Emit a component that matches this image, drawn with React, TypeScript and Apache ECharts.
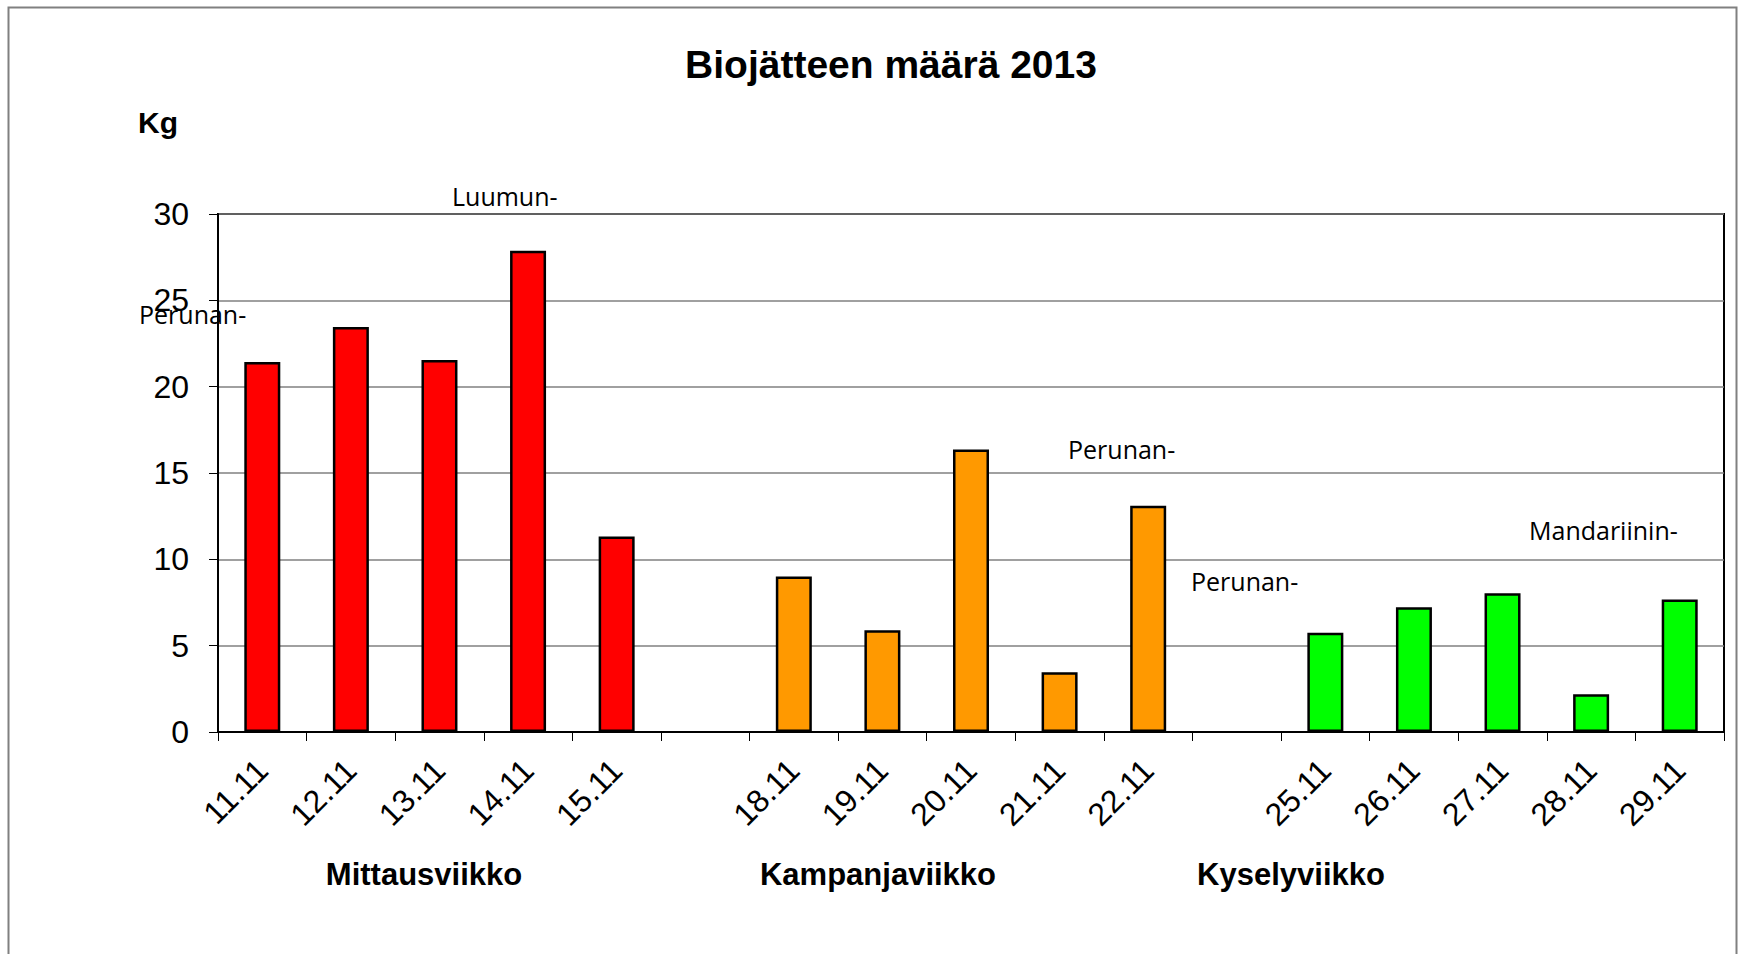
import React, { useEffect, useRef } from "react";
import * as echarts from "echarts";

const categories = [
  "11.11", "12.11", "13.11", "14.11", "15.11", "",
  "18.11", "19.11", "20.11", "21.11", "22.11", "",
  "25.11", "26.11", "27.11", "28.11", "29.11",
];
const values: (number | null)[] = [
  21.43, 23.45, 21.55, 27.87, 11.32, null,
  9.0, 5.9, 16.36, 3.46, 13.1, null,
  5.75, 7.22, 8.03, 2.18, 7.68,
];
const weekOfDay = [0, 0, 0, 0, 0, -1, 1, 1, 1, 1, 1, -1, 2, 2, 2, 2, 2];
const weekColors = ["#FF0000", "#FF9900", "#00FF00"];
const weekNames = ["Mittausviikko", "Kampanjaviikko", "Kyselyviikko"];
const weekLabelX = [424, 878, 1291];
const yTicks = [0, 5, 10, 15, 20, 25, 30];
const notes = ["Perunan-", "Luumun-", "Perunan-", "Perunan-", "Mandariinin-"];
const noteX = [139, 452, 1068, 1191, 1529];
const noteY = [314, 196, 449, 581, 530];
const titleText = "Biojätteen määrä 2013";
const unitText = "Kg";

export default function App() {
  const ref = useRef<HTMLDivElement>(null);
  useEffect(() => {
    if (!ref.current) return;
    const chart = echarts.init(ref.current, null, { renderer: "svg" });
    const sans = "'Liberation Sans', Arial, sans-serif";
    const graphics: any[] = [
      {
        type: "rect",
        shape: { x: 8.5, y: 7.5, width: 1728, height: 1000 },
        style: { fill: "none", stroke: "#808080", lineWidth: 2 },
        silent: true,
      },
      {
        type: "text",
        x: 891,
        y: 64,
        style: {
          text: titleText,
          font: `bold 39px ${sans}`,
          fill: "#000",
          textAlign: "center",
          textVerticalAlign: "middle",
        },
      },
      {
        type: "text",
        x: 138,
        y: 122,
        style: {
          text: unitText,
          font: `bold 30px ${sans}`,
          fill: "#000",
          textAlign: "left",
          textVerticalAlign: "middle",
        },
      },
    ];
    weekNames.forEach((n, i) => {
      graphics.push({
        type: "text",
        x: weekLabelX[i],
        y: 874,
        style: {
          text: n,
          font: `bold 31px ${sans}`,
          fill: "#000",
          textAlign: "center",
          textVerticalAlign: "middle",
        },
      });
    });
    notes.forEach((n, i) => {
      graphics.push({
        type: "text",
        x: noteX[i],
        y: noteY[i],
        z: 100,
        style: {
          text: n,
          font: `25px 'Open Sans', 'Noto Sans', sans-serif`,
          fill: "#000",
          textAlign: "left",
          textVerticalAlign: "middle",
        },
      });
    });

    chart.setOption({
      animation: false,
      backgroundColor: "#fff",
      grid: {
        left: 218,
        top: 214,
        right: 17,
        bottom: 222,
        show: true,
        borderColor: "#000",
        borderWidth: 2,
        backgroundColor: "transparent",
      },
      xAxis: {
        type: "category",
        data: categories,
        boundaryGap: true,
        axisLine: { show: true, lineStyle: { color: "#000", width: 2 } },
        axisTick: {
          show: true,
          alignWithLabel: false,
          interval: 0,
          length: 9,
          lineStyle: { color: "#000", width: 1 },
        },
        axisLabel: {
          interval: 0,
          rotate: 45,
          margin: 33,
          color: "#000",
          fontSize: 32,
          fontFamily: sans,
        },
        splitLine: { show: false },
      },
      yAxis: {
        type: "value",
        min: yTicks[0],
        max: yTicks[yTicks.length - 1],
        interval: 5,
        axisLine: { show: true, lineStyle: { color: "#000", width: 2 } },
        axisTick: { show: true, length: 9, lineStyle: { color: "#000", width: 1 } },
        axisLabel: {
          margin: 29,
          color: "#000",
          fontSize: 32,
          fontFamily: sans,
        },
        splitLine: { show: true, lineStyle: { color: "#808080", width: 1.5 } },
      },
      series: [
        {
          type: "bar",
          barWidth: 36,
          data: values.map((v, i) => ({
            value: v,
            itemStyle: {
              color: weekOfDay[i] >= 0 ? weekColors[weekOfDay[i]] : "#fff",
              borderColor: "#000",
              borderWidth: 2.5,
            },
          })),
        },
      ],
      graphic: graphics,
    });
    return () => chart.dispose();
  }, []);
  return (
    <div
      ref={ref}
      style={{ position: "fixed", left: 0, top: 0, width: 1741, height: 954, background: "#fff" }}
    />
  );
}
